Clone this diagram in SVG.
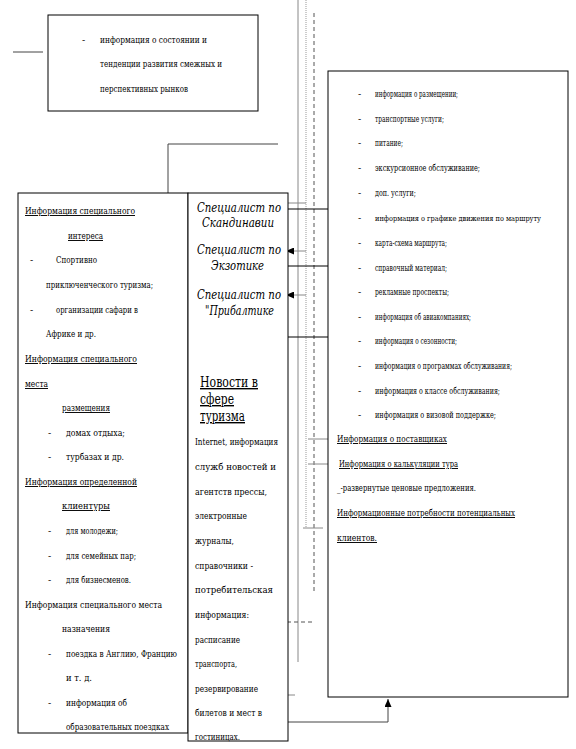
<svg xmlns="http://www.w3.org/2000/svg" width="576" height="749" viewBox="0 0 576 749">
<style>
text{font-family:"DejaVu Serif","Liberation Serif",serif;fill:#000}
.t text{font-size:9.5px}
.t text.s{font-size:8.5px}
.t text.xs{font-size:7.5px}
.u{text-decoration:underline}
.it{font-style:italic;font-size:12.5px}
.hd{font-size:14px;text-decoration:underline}
.box{fill:#fff;stroke:#000;stroke-width:1}
.c{fill:none;stroke:#444;stroke-width:1}
.g{fill:none;stroke:#888;stroke-width:1}
.dot{fill:none;stroke:#999;stroke-width:1;stroke-dasharray:1 1}
.dash{fill:none;stroke:#555;stroke-width:1;stroke-dasharray:4 3}
.blk{fill:none;stroke:#000;stroke-width:1}
</style>
<defs>
<marker id="ah" markerWidth="8" markerHeight="7" refX="8" refY="3.5" orient="auto" markerUnits="userSpaceOnUse">
<path d="M0,0 L8,3.5 L0,7 z" fill="#000"/>
</marker>
</defs>
<rect width="576" height="749" fill="#fff"/>
<g id="connectors">
<path class="c" d="M13,52 H43"/>
<path class="c" d="M168,193 V144 H278"/>
<path class="g" d="M298,0 V662"/>
<path class="dot" d="M306,0 V528"/>
<path class="dash" d="M314,13 V592"/>
<path class="g" d="M306,203 H277" marker-end="url(#ah)"/>
<path class="g" d="M306,251 H286" marker-end="url(#ah)"/>
<path class="g" d="M306,295 H286" marker-end="url(#ah)"/>
<path class="blk" d="M335,209 H277" marker-end="url(#ah)"/>
<path class="blk" d="M344,266 H277" marker-end="url(#ah)"/>
<path class="blk" d="M344,337 H277" marker-end="url(#ah)"/>
<path class="g" d="M308,439 H328"/>
<path class="g" d="M308,464 H328"/>
<path class="g" d="M303,528 H323"/>
<path class="dash" d="M273,622 H313"/>
<path class="g" d="M285,695 H295"/>
<path class="c" d="M288,722 H388 V699" marker-end="url(#ah)"/>
</g>
<g id="markets">
<rect class="box" x="48" y="15" width="210" height="96"/>
<g class="t">
<text x="82" y="43">-</text>
<text x="100" y="43" textLength="107" lengthAdjust="spacingAndGlyphs">информация о состоянии и</text>
<text x="100" y="67" textLength="122" lengthAdjust="spacingAndGlyphs">тенденции развития смежных и</text>
<text x="100" y="92" textLength="88" lengthAdjust="spacingAndGlyphs">перспективных рынков</text>
</g>
</g>
<g id="services">
<rect class="box" x="328" y="71" width="240" height="626"/>
<g class="t">
<text x="358" y="97">-</text><text class="s" x="375" y="97" textLength="83" lengthAdjust="spacingAndGlyphs">информация о размещении;</text>
<text x="358" y="122">-</text><text class="s" x="375" y="122" textLength="69" lengthAdjust="spacingAndGlyphs">транспортные услуги;</text>
<text x="358" y="146">-</text><text class="s" x="375" y="146" textLength="28" lengthAdjust="spacingAndGlyphs">питание;</text>
<text x="358" y="171">-</text><text class="s" x="375" y="171" textLength="105" lengthAdjust="spacingAndGlyphs">экскурсионное обслуживание;</text>
<text x="358" y="196">-</text><text class="s" x="375" y="196" textLength="41" lengthAdjust="spacingAndGlyphs">доп. услуги;</text>
<text x="358" y="221">-</text><text class="xs" x="375" y="221" textLength="166" lengthAdjust="spacingAndGlyphs">информация о графике движения по маршруту</text>
<text x="358" y="246">-</text><text class="s" x="375" y="246" textLength="72" lengthAdjust="spacingAndGlyphs">карта-схема маршрута;</text>
<text x="358" y="271">-</text><text class="s" x="375" y="271" textLength="72" lengthAdjust="spacingAndGlyphs">справочный материал;</text>
<text x="358" y="295">-</text><text class="s" x="375" y="295" textLength="74" lengthAdjust="spacingAndGlyphs">рекламные проспекты;</text>
<text x="358" y="320">-</text><text class="s" x="375" y="320" textLength="96" lengthAdjust="spacingAndGlyphs">информация об авиакомпаниях;</text>
<text x="358" y="344">-</text><text class="s" x="375" y="344" textLength="82" lengthAdjust="spacingAndGlyphs">информация о сезонности;</text>
<text x="358" y="369">-</text><text class="s" x="375" y="369" textLength="137" lengthAdjust="spacingAndGlyphs">информация о программах обслуживания;</text>
<text x="358" y="394">-</text><text class="s" x="375" y="394" textLength="125" lengthAdjust="spacingAndGlyphs">информация о классе обслуживания;</text>
<text x="358" y="418">-</text><text class="s" x="375" y="418" textLength="121" lengthAdjust="spacingAndGlyphs">информация о визовой поддержке;</text>
<text class="u" x="337" y="442" textLength="110" lengthAdjust="spacingAndGlyphs">Информация о поставщиках</text>
<text class="u" x="339" y="467" textLength="119" lengthAdjust="spacingAndGlyphs">Информация о калькуляции тура</text>
<text x="337" y="491" textLength="139" lengthAdjust="spacingAndGlyphs">_-развернутые ценовые предложения.</text>
<text class="u" x="337" y="516" textLength="178" lengthAdjust="spacingAndGlyphs">Информационные потребности  потенциальных</text>
<text class="u" x="337" y="541" textLength="40" lengthAdjust="spacingAndGlyphs">клиентов.</text>
</g>
</g>
<g id="special-info">
<rect class="box" x="18" y="193" width="170" height="540"/>
<g class="t">
<text class="u" x="25" y="214" textLength="110" lengthAdjust="spacingAndGlyphs">Информация специального</text>
<text class="u" x="68" y="239" textLength="35" lengthAdjust="spacingAndGlyphs">интереса</text>
<text x="30" y="263">-</text><text x="56" y="263" textLength="41" lengthAdjust="spacingAndGlyphs">Спортивно</text>
<text x="46" y="288" textLength="107" lengthAdjust="spacingAndGlyphs">приключенческого туризма;</text>
<text x="30" y="313">-</text><text x="56" y="313" textLength="82" lengthAdjust="spacingAndGlyphs">организации сафари в</text>
<text x="46" y="337" textLength="50" lengthAdjust="spacingAndGlyphs">Африке и др.</text>
<text class="u" x="25" y="362" textLength="112" lengthAdjust="spacingAndGlyphs">Информация  специального</text>
<text class="u" x="25" y="387" textLength="23" lengthAdjust="spacingAndGlyphs">места</text>
<text class="u" x="62" y="411" textLength="48" lengthAdjust="spacingAndGlyphs">размещения</text>
<text x="48" y="436">-</text><text x="66" y="436" textLength="59" lengthAdjust="spacingAndGlyphs">домах  отдыха;</text>
<text x="48" y="460">-</text><text x="66" y="460" textLength="58" lengthAdjust="spacingAndGlyphs">турбазах и др.</text>
<text class="u" x="25" y="485" textLength="112" lengthAdjust="spacingAndGlyphs">Информация определенной</text>
<text class="u" x="62" y="509" textLength="48" lengthAdjust="spacingAndGlyphs">клиентуры</text>
<text x="48" y="534">-</text><text x="66" y="534" textLength="52" lengthAdjust="spacingAndGlyphs">для молодежи;</text>
<text x="48" y="559">-</text><text x="66" y="559" textLength="70" lengthAdjust="spacingAndGlyphs">для семейных пар;</text>
<text x="48" y="583">-</text><text x="66" y="583" textLength="65" lengthAdjust="spacingAndGlyphs">для бизнесменов.</text>
<text x="25" y="608" textLength="137" lengthAdjust="spacingAndGlyphs">Информация специального места</text>
<text x="62" y="632" textLength="48" lengthAdjust="spacingAndGlyphs">назначения</text>
<text x="48" y="657">-</text><text x="66" y="657" textLength="111" lengthAdjust="spacingAndGlyphs">поездка в Англию, Францию</text>
<text x="66" y="681" textLength="26" lengthAdjust="spacingAndGlyphs">и т. д.</text>
<text x="48" y="706">-</text><text x="66" y="706" textLength="61" lengthAdjust="spacingAndGlyphs">информация об</text>
<text x="66" y="730" textLength="103" lengthAdjust="spacingAndGlyphs">образовательных поездках</text>
</g>
</g>
<g id="specialists">
<rect class="box" x="188" y="193" width="100" height="548"/>
<text class="it" x="197" y="212" textLength="84" lengthAdjust="spacingAndGlyphs">Специалист по</text>
<text class="it" x="202" y="227" textLength="72" lengthAdjust="spacingAndGlyphs">Скандинавии</text>
<text class="it" x="197" y="254" textLength="84" lengthAdjust="spacingAndGlyphs">Специалист по</text>
<text class="it" x="211" y="270" textLength="53" lengthAdjust="spacingAndGlyphs">Экзотике</text>
<text class="it" x="197" y="299" textLength="84" lengthAdjust="spacingAndGlyphs">Специалист по</text>
<text class="it" x="205" y="315" textLength="69" lengthAdjust="spacingAndGlyphs">"Прибалтике</text>
<text class="hd" x="200" y="387" textLength="58" lengthAdjust="spacingAndGlyphs">Новости в</text>
<text class="hd" x="200" y="404" textLength="34" lengthAdjust="spacingAndGlyphs">сфере</text>
<text class="hd" x="200" y="421" textLength="45" lengthAdjust="spacingAndGlyphs">туризма</text>
<g class="t">
<text x="195" y="445" textLength="83" lengthAdjust="spacingAndGlyphs">Internet, информация</text>
<text x="195" y="470" textLength="81" lengthAdjust="spacingAndGlyphs">служб новостей и</text>
<text x="195" y="495" textLength="72" lengthAdjust="spacingAndGlyphs">агентств прессы,</text>
<text x="195" y="519" textLength="52" lengthAdjust="spacingAndGlyphs">электронные</text>
<text x="195" y="544" textLength="39" lengthAdjust="spacingAndGlyphs">журналы,</text>
<text x="195" y="569" textLength="58" lengthAdjust="spacingAndGlyphs">справочники -</text>
<text x="195" y="593" textLength="78" lengthAdjust="spacingAndGlyphs">потребительская</text>
<text x="195" y="618" textLength="54" lengthAdjust="spacingAndGlyphs">информация:</text>
<text x="195" y="643" textLength="45" lengthAdjust="spacingAndGlyphs">расписание</text>
<text x="195" y="667" textLength="42" lengthAdjust="spacingAndGlyphs">транспорта,</text>
<text x="195" y="692" textLength="63" lengthAdjust="spacingAndGlyphs">резервирование</text>
<text x="195" y="716" textLength="67" lengthAdjust="spacingAndGlyphs">билетов и мест в</text>
<text x="195" y="740" textLength="45" lengthAdjust="spacingAndGlyphs">гостиницах.</text>
</g>
</g>
</svg>
